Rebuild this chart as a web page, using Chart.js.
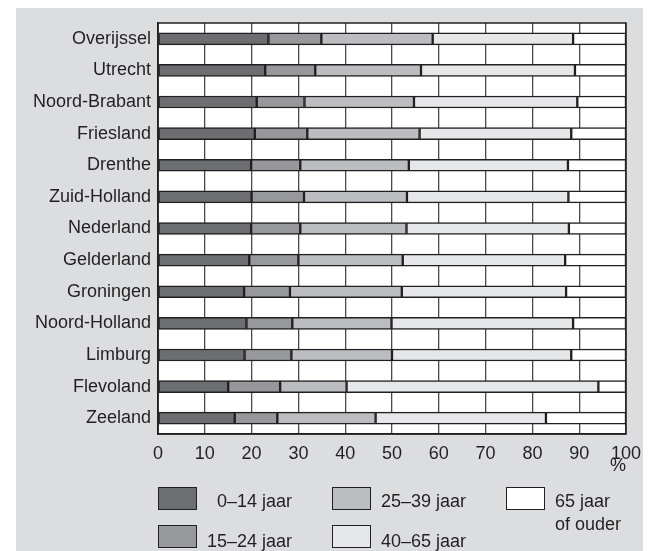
<!DOCTYPE html>
<html>
<head>
<meta charset="utf-8">
<script src="https://cdn.jsdelivr.net/npm/chart.js@4.4.1/dist/chart.umd.min.js"></script>
<style>
    body { margin: 0; background: #fff; }
    #wrap { position: relative; width: 650px; height: 551px; overflow: hidden; }
    #paneel { position: absolute; left: 16px; top: 8px; width: 627px; height: 543px; background: #dcdddf; }
    #myChart { position: absolute; left: 0; top: 0; }
    .lg-box { position: absolute; width: 37px; height: 21px; border: 1px solid #231f20; }
    .lg-txt { position: absolute; font-family: "Liberation Sans", Arial, sans-serif; font-size: 18px; line-height: 23px; color: #231f20; white-space: nowrap; }
</style>
</head>
<body>
<div id="wrap">
    <div id="paneel"></div>
    <canvas id="myChart" width="650" height="551"></canvas>
</div>
<script>
var regios = ['Overijssel', 'Utrecht', 'Noord-Brabant', 'Friesland', 'Drenthe', 'Zuid-Holland', 'Nederland',
    'Gelderland', 'Groningen', 'Noord-Holland', 'Limburg', 'Flevoland', 'Zeeland'];

var groepen = ['0–14 jaar', '15–24 jaar', '25–39 jaar', '40–65 jaar', '65 jaar\nof ouder'];

var jaar0_14  = [23.6, 22.9, 21.1, 20.7, 19.9, 20.0, 19.9, 19.5, 18.4, 18.9, 18.5, 15.0, 16.4];
var jaar15_24 = [11.3, 10.7, 10.2, 11.2, 10.5, 11.2, 10.5, 10.5, 9.8, 9.8, 10.0, 11.1, 9.1];
var jaar25_39 = [23.8, 22.6, 23.4, 24.0, 23.2, 22.0, 22.7, 22.3, 23.9, 21.2, 21.5, 14.2, 21.0];
var jaar40_65 = [30.0, 32.9, 34.9, 32.4, 34.0, 34.5, 34.7, 34.7, 35.1, 38.8, 38.3, 53.8, 36.4];
var jaar65plus = [11.3, 10.9, 10.4, 11.7, 12.4, 12.3, 12.2, 13.0, 12.8, 11.3, 11.7, 5.9, 17.1];

var xTicks = [0, 10, 20, 30, 40, 50, 60, 70, 80, 90, 100];

var kleuren = ['#6d6e71', '#97989b', '#bcbdc0', '#e6e7e8', '#ffffff'];
var series = [jaar0_14, jaar15_24, jaar25_39, jaar40_65, jaar65plus];
var lijn = '#231f20';
var font = "'Liberation Sans', Arial, sans-serif";

var datasets = [];
for (var i = 0; i < series.length; i++) {
    datasets.push({
        label: groepen[i],
        data: series[i],
        backgroundColor: kleuren[i],
        borderColor: lijn,
        borderWidth: 1.5,
        borderSkipped: false,
        barThickness: 12
    });
}

// wit plotvlak + rand rondom
var plotVlak = {
    id: 'plotVlak',
    beforeDraw: function (chart) {
        var a = chart.chartArea, c = chart.ctx;
        c.save();
        c.fillStyle = '#fff';
        c.fillRect(a.left, a.top, a.right - a.left, a.bottom - a.top);
        c.restore();
    },
    afterDraw: function (chart) {
        var a = chart.chartArea, c = chart.ctx;
        c.save();
        c.strokeStyle = lijn;
        c.lineWidth = 1.5;
        c.strokeRect(a.left, a.top, a.right - a.left, a.bottom - a.top);
        c.restore();
    }
};

var ctx = document.getElementById('myChart').getContext('2d');
var chart = new Chart(ctx, {
    type: 'bar',
    data: { labels: regios, datasets: datasets },
    plugins: [plotVlak],
    options: {
        indexAxis: 'y',
        responsive: false,
        animation: false,
        layout: { padding: { top: 23, right: 21, left: 0, bottom: 0 } },
        plugins: {
            legend: { display: false },
            tooltip: { enabled: false }
        },
        scales: {
            x: {
                stacked: true,
                min: 0,
                max: 100,
                afterBuildTicks: function (scale) {
                    scale.ticks = xTicks.map(function (v) { return { value: v }; });
                },
                afterFit: function (scale) { scale.height = 117; },
                grid: { color: '#4a4a4a', lineWidth: 1.3, drawTicks: false },
                border: { color: lijn, width: 1.5 },
                ticks: { padding: 9, color: lijn, font: { family: font, size: 18 }, maxRotation: 0 },
                title: {
                    display: true, text: '%', align: 'end', color: lijn,
                    font: { family: font, size: 18 }, padding: { top: 0, bottom: 74 }
                }
            },
            y: {
                stacked: true,
                afterFit: function (scale) { scale.width = 158; },
                grid: { display: false, drawTicks: false },
                border: { color: lijn, width: 1.5 },
                ticks: { padding: 7, color: lijn, font: { family: font, size: 18 } }
            }
        }
    }
});

// legenda onderaan
var lgPlek = [
    { box: [158, 487], txt: [217, 490] },
    { box: [158, 525], txt: [207, 530] },
    { box: [332, 487], txt: [381, 490] },
    { box: [332, 525], txt: [381, 530] },
    { box: [506, 487], txt: [555, 490] }
];
var wrap = document.getElementById('wrap');
for (var j = 0; j < groepen.length; j++) {
    var b = document.createElement('div');
    b.className = 'lg-box';
    b.style.left = lgPlek[j].box[0] + 'px';
    b.style.top = lgPlek[j].box[1] + 'px';
    b.style.background = kleuren[j];
    wrap.appendChild(b);

    var t = document.createElement('div');
    t.className = 'lg-txt';
    t.style.left = lgPlek[j].txt[0] + 'px';
    t.style.top = lgPlek[j].txt[1] + 'px';
    t.innerHTML = groepen[j].replace('\n', '<br>');
    wrap.appendChild(t);
}
</script>
</body>
</html>
